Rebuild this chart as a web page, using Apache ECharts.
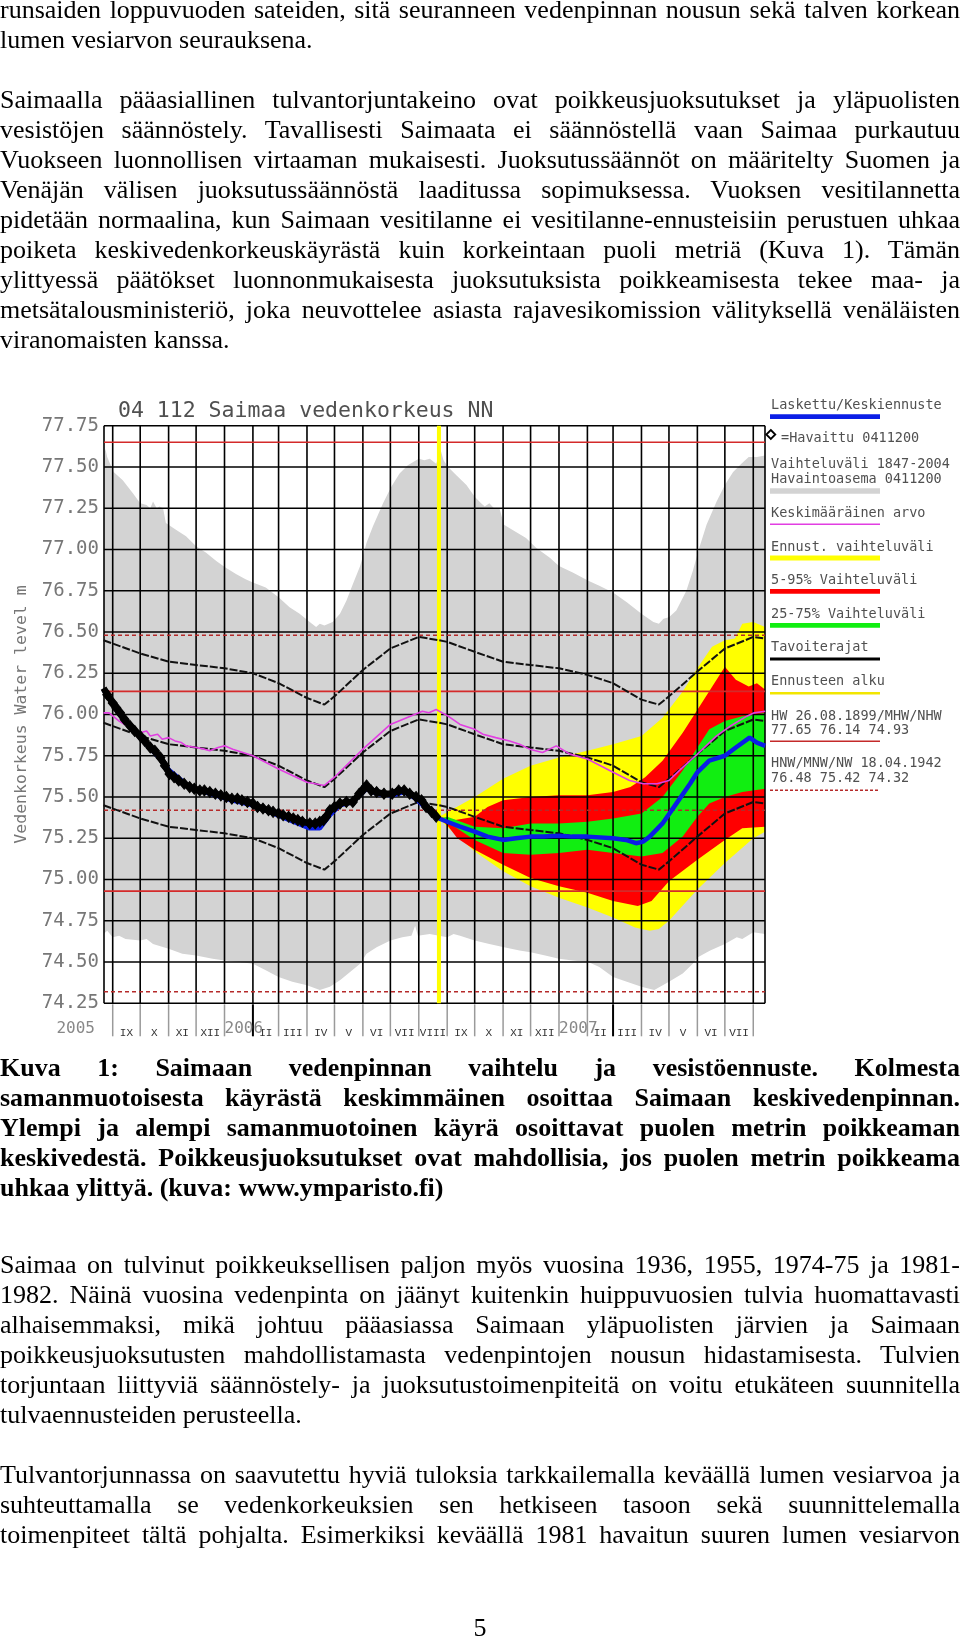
<!DOCTYPE html>
<html><head><meta charset="utf-8">
<script src="https://cdn.jsdelivr.net/npm/echarts@6/dist/echarts.min.js"></script>
<style>
html,body{margin:0;padding:0;background:#fff;}
#page{position:relative;width:960px;height:1640px;overflow:hidden;background:#fff;}
#chart{position:absolute;left:0;top:0;width:960px;height:1640px;}
.ln{position:absolute;left:0;width:960px;height:30px;line-height:30px;white-space:nowrap;font-family:'Liberation Serif','Times New Roman',serif;font-size:26px;color:#000;}
.b{font-weight:bold;}
</style></head><body><div id="page"><div id="chart"></div></div>
<script>
// ---------- text ----------
const para1 = [
 'runsaiden loppuvuoden sateiden, sitä seuranneen vedenpinnan nousun sekä talven korkean',
 'lumen vesiarvon seurauksena.'];
const para2 = [
 'Saimaalla pääasiallinen tulvantorjuntakeino ovat poikkeusjuoksutukset ja yläpuolisten',
 'vesistöjen säännöstely. Tavallisesti Saimaata ei säännöstellä vaan Saimaa purkautuu',
 'Vuokseen luonnollisen virtaaman mukaisesti. Juoksutussäännöt on määritelty Suomen ja',
 'Venäjän välisen juoksutussäännöstä laaditussa sopimuksessa. Vuoksen vesitilannetta',
 'pidetään normaalina, kun Saimaan vesitilanne ei vesitilanne-ennusteisiin perustuen uhkaa',
 'poiketa keskivedenkorkeuskäyrästä kuin korkeintaan puoli metriä (Kuva 1). Tämän',
 'ylittyessä päätökset luonnonmukaisesta juoksutuksista poikkeamisesta tekee maa- ja',
 'metsätalousministeriö, joka neuvottelee asiasta rajavesikomission välityksellä venäläisten',
 'viranomaisten kanssa.'];
const caption = [
 'Kuva 1: Saimaan vedenpinnan vaihtelu ja vesistöennuste. Kolmesta',
 'samanmuotoisesta käyrästä keskimmäinen osoittaa Saimaan keskivedenpinnan.',
 'Ylempi ja alempi samanmuotoinen käyrä osoittavat puolen metrin poikkeaman',
 'keskivedestä. Poikkeusjuoksutukset ovat mahdollisia, jos puolen metrin poikkeama',
 'uhkaa ylittyä. (kuva: www.ymparisto.fi)'];
const para3 = [
 'Saimaa on tulvinut poikkeuksellisen paljon myös vuosina 1936, 1955, 1974-75 ja 1981-',
 '1982. Näinä vuosina vedenpinta on jäänyt kuitenkin huippuvuosien tulvia huomattavasti',
 'alhaisemmaksi, mikä johtuu pääasiassa Saimaan yläpuolisten järvien ja Saimaan',
 'poikkeusjuoksutusten mahdollistamasta vedenpintojen nousun hidastamisesta. Tulvien',
 'torjuntaan liittyviä säännöstely- ja juoksutustoimenpiteitä on voitu etukäteen suunnitella',
 'tulvaennusteiden perusteella.'];
const para4 = [
 'Tulvantorjunnassa on saavutettu hyviä tuloksia tarkkailemalla keväällä lumen vesiarvoa ja',
 'suhteuttamalla se vedenkorkeuksien sen hetkiseen tasoon sekä suunnittelemalla',
 'toimenpiteet tältä pohjalta. Esimerkiksi keväällä 1981 havaitun suuren lumen vesiarvon'];
const pageNumber = '5';

// ---------- chart texts ----------
const chartTitle = '04 112 Saimaa vedenkorkeus NN';
const yAxisName = 'Vedenkorkeus Water level m';
const yTicks = [74.25,74.50,74.75,75.00,75.25,75.50,75.75,76.00,76.25,76.50,76.75,77.00,77.25,77.50,77.75];
const monthStarts = ['2005-09-01','2005-10-01','2005-11-01','2005-12-01','2006-01-01','2006-02-01','2006-03-01','2006-04-01','2006-05-01','2006-06-01','2006-07-01','2006-08-01',
 '2006-09-01','2006-10-01','2006-11-01','2006-12-01','2007-01-01','2007-02-01','2007-03-01','2007-04-01','2007-05-01','2007-06-01','2007-07-01','2007-08-01'];
const monthLabels = ['IX','X','XI','XII','','II','III','IV','V','VI','VII','VIII','IX','X','XI','XII','','II','III','IV','V','VI','VII',''];
const yearMarks = [['2006-01-01','2006'],['2007-01-01','2007']];
const firstYearLabel = '2005';
const darkTicks = ['2006-02-01','2007-03-01'];
const forecastStart = '2006-08-23';
const refSolid = [77.65, 76.14, 74.93];   // HW / MHW / NHW
const refDashed = [76.48, 75.42, 74.32];  // HNW / MNW / NW
const legendTexts = ['Laskettu/Keskiennuste','=Havaittu 0411200','Vaihteluväli 1847-2004','Havaintoasema 0411200','Keskimääräinen arvo','Ennust. vaihteluväli','5-95% Vaihteluväli','25-75% Vaihteluväli','Tavoiterajat','Ennusteen alku','HW 26.08.1899/MHW/NHW','77.65 76.14 74.93','HNW/MNW/NW 18.04.1942','76.48 75.42 74.32'];

// ---------- series values ----------
const grayHigh = [['2005-08-22',77.53],['2005-08-24',77.61],['2005-08-26',77.56],['2005-09-02',77.47],['2005-09-12',77.42],['2005-09-23',77.34],['2005-10-01',77.28],['2005-10-08',77.27],['2005-10-12',77.25],['2005-10-15',77.29],['2005-10-19',77.25],['2005-10-22',77.26],['2005-10-26',77.25],['2005-10-29',77.16],['2005-11-09',77.12],['2005-11-20',77.08],['2005-12-01',77.02],['2005-12-12',76.98],['2005-12-23',76.93],['2006-01-02',76.89],['2006-01-14',76.85],['2006-01-24',76.82],['2006-02-01',76.80],['2006-02-15',76.77],['2006-03-01',76.71],['2006-03-13',76.65],['2006-03-24',76.61],['2006-04-04',76.56],['2006-04-11',76.53],['2006-04-15',76.55],['2006-04-20',76.54],['2006-04-29',76.56],['2006-05-07',76.61],['2006-05-14',76.69],['2006-05-21',76.79],['2006-05-29',76.90],['2006-06-05',77.04],['2006-06-12',77.14],['2006-06-23',77.28],['2006-07-02',77.38],['2006-07-11',77.46],['2006-07-20',77.51],['2006-08-01',77.55],['2006-08-07',77.54],['2006-08-13',77.55],['2006-08-20',77.52],['2006-08-25',77.60],['2006-08-28',77.54],['2006-09-02',77.50],['2006-09-11',77.45],['2006-09-22',77.39],['2006-10-01',77.32],['2006-10-08',77.28],['2006-10-12',77.26],['2006-10-17',77.28],['2006-10-22',77.25],['2006-10-28',77.25],['2006-11-02',77.15],['2006-11-11',77.12],['2006-11-26',77.07],['2006-12-07',77.01],['2006-12-22',76.95],['2007-01-01',76.90],['2007-01-16',76.86],['2007-02-02',76.81],['2007-02-14',76.78],['2007-03-01',76.74],['2007-03-16',76.68],['2007-04-01',76.61],['2007-04-14',76.56],['2007-04-20',76.55],['2007-04-25',76.58],['2007-05-01',76.59],['2007-05-09',76.63],['2007-05-20',76.75],['2007-05-27',76.87],['2007-06-02',76.99],['2007-06-11',77.15],['2007-06-22',77.29],['2007-07-01',77.39],['2007-07-10',77.47],['2007-07-19',77.52],['2007-07-27',77.56],['2007-08-05',77.56],['2007-08-14',77.57]];
const grayLow = [['2005-08-22',74.67],['2005-08-26',74.69],['2005-09-01',74.65],['2005-09-08',74.66],['2005-09-15',74.64],['2005-10-01',74.63],['2005-10-08',74.64],['2005-10-15',74.61],['2005-11-01',74.58],['2005-11-16',74.55],['2005-12-01',74.54],['2005-12-19',74.52],['2006-01-01',74.51],['2006-01-17',74.50],['2006-02-01',74.49],['2006-02-15',74.45],['2006-03-01',74.41],['2006-03-16',74.38],['2006-04-01',74.36],['2006-04-15',74.33],['2006-04-26',74.35],['2006-05-07',74.39],['2006-05-18',74.44],['2006-05-29',74.49],['2006-06-05',74.55],['2006-06-16',74.59],['2006-07-01',74.63],['2006-07-14',74.65],['2006-07-24',74.66],['2006-07-28',74.72],['2006-07-31',74.66],['2006-08-13',74.67],['2006-09-01',74.65],['2006-09-08',74.67],['2006-09-15',74.66],['2006-10-01',74.63],['2006-10-17',74.61],['2006-11-02',74.59],['2006-11-19',74.57],['2006-12-01',74.56],['2006-12-17',74.54],['2007-01-01',74.52],['2007-01-16',74.51],['2007-02-02',74.50],['2007-02-14',74.47],['2007-03-01',74.41],['2007-03-16',74.38],['2007-04-01',74.35],['2007-04-15',74.33],['2007-05-01',74.38],['2007-05-16',74.43],['2007-05-27',74.49],['2007-06-02',74.53],['2007-06-15',74.57],['2007-07-01',74.61],['2007-07-14',74.65],['2007-07-20',74.64],['2007-08-01',74.68],['2007-08-14',74.67]];

const forecastMaxHigh = [['2006-08-23',75.38],['2006-09-02',75.41],['2006-10-01',75.50],['2006-11-01',75.61],['2006-12-01',75.69],['2007-01-01',75.74],['2007-02-01',75.78],['2007-03-01',75.82],['2007-04-01',75.87],['2007-04-24',75.98],['2007-05-16',76.14],['2007-06-01',76.28],['2007-06-17',76.41],['2007-07-01',76.45],['2007-07-12',76.46],['2007-07-20',76.55],['2007-08-01',76.56],['2007-08-14',76.53]];
const forecastMaxLow = [['2006-08-23',75.37],['2006-09-01',75.32],['2006-10-01',75.17],['2006-11-01',75.05],['2006-12-01',74.96],['2007-01-01',74.89],['2007-02-01',74.83],['2007-03-01',74.77],['2007-03-25',74.71],['2007-04-10',74.69],['2007-04-20',74.70],['2007-05-01',74.75],['2007-06-01',74.94],['2007-07-01',75.10],['2007-08-01',75.25],['2007-08-14',75.29]];
const p95 = [['2006-08-23',75.38],['2006-09-10',75.36],['2006-10-01',75.38],['2006-10-15',75.44],['2006-11-01',75.48],['2006-12-01',75.50],['2007-01-01',75.51],['2007-02-01',75.51],['2007-03-01',75.53],['2007-03-20',75.56],['2007-04-05',75.62],['2007-04-24',75.72],['2007-05-16',75.89],['2007-05-30',76.01],['2007-06-15',76.15],['2007-07-01',76.29],['2007-07-13',76.21],['2007-07-27',76.17],['2007-08-05',76.19],['2007-08-14',76.15]];
const p5 = [['2006-08-23',75.37],['2006-09-01',75.33],['2006-09-12',75.25],['2006-10-01',75.18],['2006-11-01',75.09],['2006-12-01',75.01],['2007-01-01',74.96],['2007-02-01',74.92],['2007-03-01',74.87],['2007-03-28',74.84],['2007-04-12',74.87],['2007-05-01',74.99],['2007-06-01',75.12],['2007-07-01',75.24],['2007-07-20',75.31],['2007-08-14',75.32]];
const p75 = [['2006-08-23',75.37],['2006-09-01',75.38],['2006-10-01',75.32],['2006-11-01',75.31],['2006-12-01',75.34],['2007-01-01',75.34],['2007-02-01',75.35],['2007-03-01',75.37],['2007-04-01',75.40],['2007-04-24',75.50],['2007-05-16',75.66],['2007-06-01',75.80],['2007-06-14',75.91],['2007-07-01',75.96],['2007-07-20',75.99],['2007-08-14',76.01]];
const p25 = [['2006-08-23',75.37],['2006-09-01',75.35],['2006-10-01',75.24],['2006-11-01',75.16],['2006-12-01',75.15],['2007-01-01',75.16],['2007-02-01',75.18],['2007-03-01',75.16],['2007-04-01',75.14],['2007-04-24',75.16],['2007-05-16',75.26],['2007-06-01',75.38],['2007-06-14',75.46],['2007-07-01',75.50],['2007-07-20',75.53],['2007-08-14',75.55]];

const targetDates = ['2005-08-22','2005-09-01','2005-10-01','2005-11-01','2005-12-01','2006-01-01','2006-02-01','2006-03-01','2006-04-01','2006-04-20','2006-05-01','2006-06-01','2006-07-01','2006-08-01','2006-08-23','2006-09-01','2006-10-01','2006-11-01','2006-12-01','2007-01-01','2007-02-01','2007-03-01','2007-04-01','2007-04-20','2007-05-01','2007-06-01','2007-07-01','2007-08-01','2007-08-14'];
const targetUpper = [76.45,76.43,76.37,76.32,76.30,76.28,76.25,76.19,76.10,76.06,76.11,76.27,76.40,76.47,76.45,76.44,76.38,76.32,76.30,76.28,76.24,76.19,76.09,76.06,76.11,76.26,76.40,76.47,76.46];
const targetMiddle = [75.95,75.93,75.87,75.82,75.80,75.78,75.75,75.69,75.60,75.56,75.61,75.77,75.90,75.97,75.95,75.94,75.88,75.82,75.80,75.78,75.74,75.69,75.59,75.56,75.61,75.76,75.90,75.97,75.96];
const targetLower = [75.45,75.43,75.37,75.32,75.30,75.28,75.25,75.19,75.10,75.06,75.11,75.27,75.40,75.47,75.45,75.44,75.38,75.32,75.30,75.28,75.24,75.19,75.09,75.06,75.11,75.26,75.40,75.47,75.46];

const meanLevel = [['2005-08-22',76.01],['2005-08-28',76.01],['2005-09-08',75.96],['2005-09-20',75.92],['2005-10-01',75.89],['2005-10-08',75.90],['2005-10-12',75.87],['2005-10-20',75.88],['2005-10-25',75.85],['2005-11-01',75.86],['2005-11-08',75.84],['2005-11-15',75.83],['2005-11-20',75.81],['2005-12-01',75.80],['2005-12-10',75.79],['2005-12-16',75.78],['2005-12-25',75.80],['2006-01-01',75.81],['2006-01-10',75.79],['2006-02-01',75.75],['2006-03-01',75.67],['2006-04-01',75.59],['2006-04-20',75.57],['2006-05-01',75.62],['2006-06-01',75.79],['2006-07-01',75.94],['2006-08-01',76.01],['2006-08-05',76.02],['2006-08-12',76.01],['2006-08-20',76.03],['2006-09-02',75.99],['2006-09-15',75.94],['2006-10-01',75.91],['2006-10-10',75.88],['2006-10-24',75.86],['2006-11-08',75.84],['2006-11-19',75.82],['2006-11-30',75.79],['2006-12-14',75.77],['2006-12-29',75.81],['2007-01-13',75.76],['2007-02-01',75.73],['2007-03-01',75.65],['2007-03-19',75.60],['2007-04-03',75.58],['2007-04-18',75.58],['2007-05-01',75.60],['2007-05-16',75.68],['2007-06-01',75.76],['2007-06-22',75.87],['2007-07-07',75.93],['2007-07-25',75.99],['2007-08-02',76.01],['2007-08-14',76.02]];

const observed = [['2005-08-22',76.16],['2005-08-26',76.12],['2005-09-01',76.07],['2005-09-05',76.04],['2005-09-09',76.01],['2005-09-14',75.97],['2005-09-20',75.93],['2005-09-25',75.90],['2005-10-01',75.87],['2005-10-06',75.84],['2005-10-12',75.80],['2005-10-17',75.78],['2005-10-23',75.74],['2005-10-28',75.69],['2005-11-02',75.64],['2005-11-07',75.62],['2005-11-12',75.60],['2005-11-18',75.58],['2005-11-24',75.56],['2005-11-29',75.55],['2005-12-05',75.54],['2005-12-10',75.54],['2005-12-16',75.53],['2005-12-22',75.52],['2005-12-28',75.51],['2006-01-03',75.50],['2006-01-09',75.49],['2006-01-15',75.49],['2006-01-20',75.48],['2006-01-26',75.47],['2006-02-01',75.46],['2006-02-06',75.44],['2006-02-12',75.43],['2006-02-18',75.42],['2006-02-23',75.41],['2006-03-01',75.40],['2006-03-06',75.39],['2006-03-12',75.38],['2006-03-17',75.37],['2006-03-22',75.36],['2006-03-27',75.35],['2006-04-04',75.34],['2006-04-10',75.34],['2006-04-15',75.35],['2006-04-19',75.36],['2006-04-22',75.38],['2006-04-26',75.42],['2006-05-01',75.44],['2006-05-07',75.46],['2006-05-14',75.47],['2006-05-21',75.47],['2006-05-28',75.52],['2006-06-02',75.55],['2006-06-05',75.57],['2006-06-10',75.54],['2006-06-16',75.53],['2006-06-24',75.52],['2006-07-03',75.52],['2006-07-10',75.54],['2006-07-16',75.54],['2006-07-22',75.52],['2006-07-29',75.50],['2006-08-04',75.48],['2006-08-09',75.44],['2006-08-15',75.41],['2006-08-20',75.38]];
const computed = [['2005-08-22',76.15],['2005-09-09',76.00],['2005-10-01',75.86],['2005-10-23',75.73],['2005-11-02',75.66],['2005-11-24',75.56],['2005-12-16',75.52],['2006-01-09',75.48],['2006-02-01',75.45],['2006-02-23',75.40],['2006-03-17',75.35],['2006-04-04',75.31],['2006-04-15',75.31],['2006-04-26',75.39],['2006-05-07',75.45],['2006-05-21',75.47],['2006-06-05',75.55],['2006-06-16',75.52],['2006-07-03',75.51],['2006-07-16',75.53],['2006-07-29',75.49],['2006-08-09',75.43],['2006-08-20',75.38],['2006-08-23',75.37]];
const forecastMid = [['2006-08-23',75.37],['2006-09-01',75.35],['2006-09-15',75.32],['2006-10-01',75.29],['2006-10-15',75.26],['2006-11-01',75.24],['2006-11-15',75.25],['2006-12-01',75.26],['2006-12-15',75.26],['2007-01-01',75.265],['2007-01-15',75.26],['2007-02-01',75.26],['2007-03-01',75.25],['2007-03-15',75.24],['2007-03-26',75.22],['2007-04-03',75.23],['2007-04-10',75.26],['2007-04-24',75.34],['2007-05-09',75.46],['2007-05-24',75.58],['2007-06-01',75.65],['2007-06-14',75.72],['2007-07-01',75.75],['2007-07-13',75.80],['2007-07-28',75.86],['2007-08-05',75.83],['2007-08-14',75.81]];

// ---------- page text layout ----------
const page = document.getElementById('page');
function addBlock(lines, top, bold, lastJustified) {
  lines.forEach((txt, i) => {
    const d = document.createElement('div');
    d.className = 'ln' + (bold ? ' b' : '');
    d.style.top = (top + i * 30) + 'px';
    const s = document.createElement('span');
    s.textContent = txt;
    d.appendChild(s);
    page.appendChild(d);
    const w = s.getBoundingClientRect().width;
    if (w > 958) d.style.letterSpacing = ((958 - w) / txt.length).toFixed(3) + 'px';
    const justify = i < lines.length - 1 || lastJustified;
    if (justify) { d.style.textAlign = 'justify'; d.style.textAlignLast = 'justify'; }
    d.style.whiteSpace = 'normal';
    d.style.zIndex = 5;
  });
}
addBlock(para1, -5.5, false, false);
addBlock(para2, 84.5, false, false);
addBlock(caption, 1053, true, false);
addBlock(para3, 1249.5, false, false);
addBlock(para4, 1459.5, false, true);
(function(){ const d = document.createElement('div'); d.className='ln'; d.style.top='1613px'; d.style.textAlign='center'; d.textContent = pageNumber; page.appendChild(d); })();

// ---------- chart ----------
const DAY = 86400000;
const T = s => { const a = s.split('-').map(Number); return Date.UTC(a[0], a[1]-1, a[2]); };
const X_MIN = T('2005-08-22') + 0.5 * DAY;
const X_MAX = T('2007-08-13') + 0.8 * DAY;
const Y_MIN = yTicks[0], Y_MAX = yTicks[yTicks.length - 1];
const pts = arr => arr.map(p => [T(p[0]), p[1]]);
const zip = (dates, vals) => dates.map((d, i) => [T(d), vals[i]]);

function band(name, hi, lo, color, z) {
  return { type: 'custom', name, z, silent: true, clip: true, animation: false,
    data: [[X_MIN, Y_MIN]], encode: { x: 0, y: 1 },
    renderItem: (p, api) => {
      const poly = hi.map(q => api.coord([T(q[0]), q[1]]))
        .concat(lo.slice().reverse().map(q => api.coord([T(q[0]), q[1]])));
      return { type: 'polygon', shape: { points: poly }, style: { fill: color } };
    } };
}
function lineEl(x1, y1, x2, y2, stroke, w, dash) {
  const st = { stroke, lineWidth: w };
  if (dash) st.lineDash = dash;
  return { type: 'line', shape: { x1, y1, x2, y2 }, style: st };
}
const gridSeries = { type: 'custom', name: 'grid', z: 3, silent: true, clip: false, animation: false,
  data: [[X_MIN, Y_MIN]], encode: { x: 0, y: 1 },
  renderItem: (p, api) => {
    const ch = [];
    const yb = api.coord([X_MIN, Y_MIN])[1], yt = api.coord([X_MIN, Y_MAX])[1];
    const xl = api.coord([X_MIN, Y_MIN])[0], xr = api.coord([X_MAX, Y_MIN])[0];
    [X_MIN, X_MAX].concat(monthStarts.map(T)).forEach(t => { const x = api.coord([t, Y_MIN])[0]; ch.push(lineEl(x, yb, x, yt, '#000', 1.6)); });
    yTicks.forEach(v => { const y = api.coord([X_MIN, v])[1]; ch.push(lineEl(xl, y, xr, y, '#000', 1.6)); });
    return { type: 'group', children: ch };
  } };
const refSeries = { type: 'custom', name: 'ref', z: 4, silent: true, clip: false, animation: false,
  data: [[X_MIN, Y_MIN]], encode: { x: 0, y: 1 },
  renderItem: (p, api) => {
    const ch = [];
    const xl = api.coord([X_MIN, Y_MIN])[0], xr = api.coord([X_MAX, Y_MIN])[0];
    refSolid.forEach(v => { const y = api.coord([X_MIN, v])[1]; ch.push(lineEl(xl, y, xr, y, '#d42a2a', 1.6)); });
    refDashed.forEach(v => { const y = api.coord([X_MIN, v])[1]; ch.push(lineEl(xl, y, xr, y, '#b52a2a', 1.6, [4, 3])); });
    const xf = api.coord([T(forecastStart), Y_MIN])[0];
    ch.push(lineEl(xf, api.coord([X_MIN, Y_MIN])[1], xf, api.coord([X_MIN, Y_MAX])[1], '#ffff00', 4));
    return { type: 'group', children: ch };
  } };
const decorSeries = { type: 'custom', name: 'decor', z: 10, silent: true, clip: false, animation: false,
  data: [[X_MIN, Y_MIN]], encode: { x: 0, y: 1 },
  renderItem: (p, api) => {
    const ch = [];
    const yb = api.coord([X_MIN, Y_MIN])[1];
    const starts = monthStarts.map(T);
    starts.forEach((t, i) => {
      const x = api.coord([t, Y_MIN])[0];
      const dark = darkTicks.indexOf(monthStarts[i]) >= 0;
      ch.push(lineEl(x, yb + 1, x, yb + 33, dark ? '#000' : '#9a9a9a', dark ? 2 : 1.5));
      const next = i + 1 < starts.length ? starts[i + 1] : null;
      if (monthLabels[i] && next) {
        const xm = api.coord([(t + next) / 2, Y_MIN])[0];
        ch.push({ type: 'text', x: xm, y: yb + 30, style: { text: monthLabels[i], font: '11px "Liberation Mono", monospace', fill: '#333', textAlign: 'center', textVerticalAlign: 'middle' } });
      }
    });
    yearMarks.forEach(m => {
      const x = api.coord([T(m[0]), Y_MIN])[0];
      ch.push({ type: 'text', x: x, y: yb + 26, style: { text: m[1], font: '16px "DejaVu Sans Mono", monospace', fill: '#888', textAlign: 'left', textVerticalAlign: 'middle' } });
    });
    const x0 = api.coord([X_MIN, Y_MIN])[0];
    ch.push({ type: 'text', x: x0 - 9, y: yb + 26, style: { text: firstYearLabel, font: '16px "DejaVu Sans Mono", monospace', fill: '#888', textAlign: 'right', textVerticalAlign: 'middle' } });
    return { type: 'group', children: ch };
  } };

const dashStyle = { color: '#111', width: 2, type: [8, 2] };
const legendFont = '13.5px "DejaVu Sans Mono", monospace';
const legendY = [405.3, 438.5, 464, 479.3, 513.5, 547.5, 580, 614, 647.5, 681, 716, 730, 763.3, 778.3];
const graphics = [];
legendTexts.forEach((txt, i) => {
  graphics.push({ type: 'text', x: i === 1 ? 781 : 771, y: legendY[i], style: { text: txt, font: legendFont, fill: '#505050', textVerticalAlign: 'middle' } });
});
const LX = 770, LW = 110;
graphics.push(
  { type: 'rect', shape: { x: LX, y: 414.3, width: LW, height: 4.8 }, style: { fill: '#0a1ee6' } },
  { type: 'polygon', shape: { points: [[770.8, 430], [775.3, 434.5], [770.8, 439], [766.3, 434.5]] }, style: { fill: '#fff', stroke: '#000', lineWidth: 1.8 } },
  { type: 'rect', shape: { x: LX, y: 488.3, width: LW, height: 5.4 }, style: { fill: '#d3d3d3' } },
  { type: 'line', shape: { x1: LX, y1: 524.3, x2: LX + LW, y2: 524.3 }, style: { stroke: '#e23ee2', lineWidth: 1.5 } },
  { type: 'rect', shape: { x: LX, y: 555.6, width: LW, height: 4.8 }, style: { fill: '#ffff00' } },
  { type: 'rect', shape: { x: LX, y: 588.9, width: LW, height: 4.8 }, style: { fill: '#ff0000' } },
  { type: 'rect', shape: { x: LX, y: 622.9, width: LW, height: 4.8 }, style: { fill: '#11ee11' } },
  { type: 'line', shape: { x1: LX, y1: 659, x2: LX + LW, y2: 659 }, style: { stroke: '#000', lineWidth: 2.8 } },
  { type: 'line', shape: { x1: LX, y1: 693.3, x2: LX + LW, y2: 693.3 }, style: { stroke: '#f2e600', lineWidth: 2.4 } },
  { type: 'line', shape: { x1: LX, y1: 741.2, x2: LX + LW, y2: 741.2 }, style: { stroke: '#c42a2a', lineWidth: 1.6 } },
  { type: 'line', shape: { x1: LX, y1: 790.2, x2: LX + 108, y2: 790.2 }, style: { stroke: '#b52a2a', lineWidth: 1.5, lineDash: [3, 2] } },
  { type: 'text', x: 118, y: 411.5, style: { text: chartTitle, font: '21.5px "DejaVu Sans Mono", monospace', fill: '#505050', textVerticalAlign: 'middle' } }
);

const chart = echarts.init(document.getElementById('chart'), null, { renderer: 'canvas' });
chart.setOption({
  animation: false,
  useUTC: true,
  backgroundColor: 'transparent',
  grid: { left: 104, right: 195, top: 425.7, bottom: 636.7, show: false },
  xAxis: { type: 'time', min: X_MIN, max: X_MAX, axisLine: { show: false }, axisTick: { show: false }, axisLabel: { show: false }, splitLine: { show: false } },
  yAxis: { type: 'value', min: Y_MIN, max: Y_MAX, interval: 0.25,
    axisLine: { show: false }, axisTick: { show: false }, splitLine: { show: false },
    axisLabel: { formatter: v => v.toFixed(2), fontFamily: 'DejaVu Sans Mono', fontSize: 19, color: '#777', margin: 5 },
    name: yAxisName, nameLocation: 'middle', nameRotate: 90, nameGap: 74,
    nameTextStyle: { fontFamily: 'DejaVu Sans Mono', fontSize: 16.5, color: '#777' } },
  graphic: graphics,
  series: [
    band('Vaihteluväli 1847-2004', grayHigh, grayLow, '#d3d3d3', 1),
    band('Ennust. vaihteluväli', forecastMaxHigh, forecastMaxLow, '#ffff00', 2),
    band('5-95% Vaihteluväli', p95, p5, '#ff0000', 2),
    band('25-75% Vaihteluväli', p75, p25, '#11ee11', 2),
    gridSeries,
    refSeries,
    { type: 'line', name: 'Tavoiterajat ylä', z: 5, data: zip(targetDates, targetUpper), showSymbol: false, silent: true, lineStyle: dashStyle },
    { type: 'line', name: 'Tavoiterajat keski', z: 5, data: zip(targetDates, targetMiddle), showSymbol: false, silent: true, lineStyle: dashStyle },
    { type: 'line', name: 'Tavoiterajat ala', z: 5, data: zip(targetDates, targetLower), showSymbol: false, silent: true, lineStyle: dashStyle },
    { type: 'line', name: 'Keskimääräinen arvo', z: 6, data: pts(meanLevel), showSymbol: false, silent: true, lineStyle: { color: '#e23ee2', width: 1.6 } },
    { type: 'line', name: 'Laskettu', z: 7, data: pts(computed), showSymbol: false, silent: true, lineStyle: { color: '#0a1ee6', width: 4.5 } },
    { type: 'line', name: 'Keskiennuste', z: 7, data: pts(forecastMid), showSymbol: false, silent: true, lineStyle: { color: '#0a1ee6', width: 4.5 } },
    { type: 'line', name: 'Havaittu', z: 8, data: pts(observed), showSymbol: true, symbol: 'diamond', symbolSize: [9, 11], silent: true,
      itemStyle: { color: '#000', borderColor: '#000', borderWidth: 1 }, lineStyle: { color: '#000', width: 6.5 } },
    decorSeries
  ]
});
</script></body></html>
